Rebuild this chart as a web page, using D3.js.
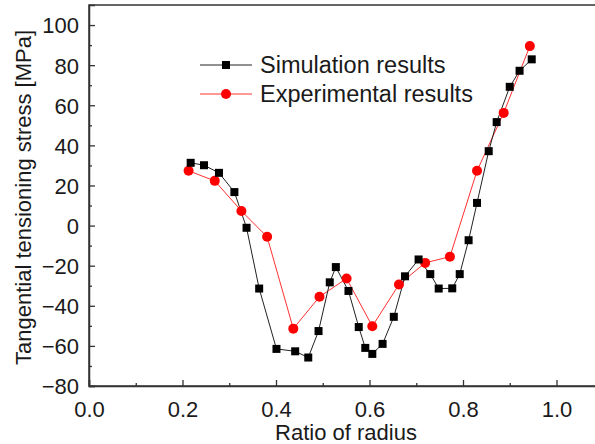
<!DOCTYPE html>
<html lang="en">
<head>
<meta charset="UTF-8">
<title>Tangential tensioning stress</title>
<script src="https://cdn.jsdelivr.net/npm/d3@7"></script>
<style>
  body { margin: 0; background: #fff; }
  text { font-family: "Liberation Sans", Arial, sans-serif; fill: #1a1a1a; }
</style>
</head>
<body>
<script>
// simulation (black squares)
const simX = [0.2175, 0.246, 0.278, 0.311, 0.337, 0.364, 0.401, 0.441, 0.469, 0.491,
  0.515, 0.528, 0.555, 0.577, 0.591, 0.606, 0.628, 0.652, 0.676, 0.705,
  0.73, 0.748, 0.777, 0.793, 0.812, 0.83, 0.855, 0.872, 0.9, 0.921, 0.947]
const simY = [31.3, 30.1, 26.3, 16.7, -1.1, -31.4, -61.5, -62.7, -65.8, -52.6,
  -28.3, -20.7, -32.6, -50.6, -61, -64, -59, -45.5, -25.3, -16.9,
  -24.2, -31.4, -31.3, -24.2, -7.3, 11.3, 37.1, 51.6, 69.2, 77.2, 82.9]

// experiment (red circles)
const expX = [0.213, 0.269, 0.326, 0.381, 0.437, 0.493, 0.551, 0.606, 0.663, 0.719, 0.772, 0.83, 0.887, 0.943]
const expY = [27.3, 22.3, 7.3, -5.6, -51.4, -35.5, -26.4, -50.2, -29.4, -18.6, -15.5, 27.3, 56.2, 89.5]

const xTicks = [0, 0.2, 0.4, 0.6, 0.8, 1.0]
const yTicks = [-80, -60, -40, -20, 0, 20, 40, 60, 80, 100]
const seriesNames = ['Simulation results', 'Experimental results']

const width = 595, height = 444
const mLeft = 89, mTop = 5, mBottom = 386

const x = d3.scaleLinear().domain([0, 1.1]).range([mLeft, mLeft + 1.1 * 467.5])
const y = d3.scaleLinear().domain([-80, 110]).range([mBottom, mTop])

const svg = d3.select('body').append('svg')
  .attr('width', width)
  .attr('height', height)

// frame
svg.append('rect')
  .attr('x', x(0)).attr('y', y(110))
  .attr('width', x(1.1) - x(0)).attr('height', y(-80) - y(110))
  .attr('fill', 'none').attr('stroke', '#333').attr('stroke-width', 1.5)

// x axis (ticks inside)
const xAxis = d3.axisBottom(x).tickValues(xTicks).tickSize(-6).tickFormat(d3.format('.1f'))
const gx = svg.append('g').attr('transform', `translate(0,${mBottom})`).call(xAxis)
svg.append('g').attr('transform', `translate(0,${mBottom})`)
  .call(d3.axisBottom(x).tickValues([0.1, 0.3, 0.5, 0.7, 0.9]).tickSize(-3).tickFormat(''))
  .call(g => g.select('.domain').remove())

const yAxis = d3.axisLeft(y).tickValues(yTicks).tickSize(-6)
const gy = svg.append('g').attr('transform', `translate(${mLeft},0)`).call(yAxis)
svg.append('g').attr('transform', `translate(${mLeft},0)`)
  .call(d3.axisLeft(y).tickValues(d3.range(-70, 110, 20)).tickSize(-3).tickFormat(''))
  .call(g => g.select('.domain').remove())

svg.selectAll('.domain').attr('stroke', '#333').attr('stroke-width', 1.5)
svg.selectAll('.tick line').attr('stroke', '#333').attr('stroke-width', 1.3)

gx.selectAll('text').attr('font-size', 22).attr('dy', 0).attr('y', 31)
  .attr('font-family', '"Liberation Sans", Arial, sans-serif').attr('fill', '#1a1a1a')
gy.selectAll('text').attr('font-size', 22).attr('x', -10).attr('dy', '0.36em')
  .attr('font-family', '"Liberation Sans", Arial, sans-serif').attr('fill', '#1a1a1a')

// axis titles
svg.append('text')
  .attr('x', (x(0) + 595) / 2 + 4).attr('y', 440)
  .attr('text-anchor', 'middle').attr('font-size', 22)
  .text('Ratio of radius')

svg.append('text')
  .attr('transform', `translate(31,${(mTop + mBottom) / 2 + 2}) rotate(-90)`)
  .attr('text-anchor', 'middle').attr('font-size', 22)
  .text('Tangential tensioning stress [MPa]')

// lines
const sim = simX.map((d, i) => [d, simY[i]])
const exp = expX.map((d, i) => [d, expY[i]])
const line = d3.line().x(d => x(d[0])).y(d => y(d[1]))

svg.append('path').datum(exp).attr('d', line)
  .attr('fill', 'none').attr('stroke', '#ff3030').attr('stroke-width', 1)
svg.append('path').datum(sim).attr('d', line)
  .attr('fill', 'none').attr('stroke', '#222').attr('stroke-width', 1)

svg.selectAll('circle.exp').data(exp).enter().append('circle')
  .attr('class', 'exp')
  .attr('cx', d => x(d[0])).attr('cy', d => y(d[1])).attr('r', 5)
  .attr('fill', '#ff0000')

svg.selectAll('rect.sim').data(sim).enter().append('rect')
  .attr('class', 'sim')
  .attr('x', d => x(d[0]) - 4).attr('y', d => y(d[1]) - 4)
  .attr('width', 8).attr('height', 8)
  .attr('fill', '#000')

// legend
const legend = svg.append('g')
const legY = [65, 94]
const legCol = ['#222', '#ff3030']
seriesNames.forEach((name, i) => {
  legend.append('line')
    .attr('x1', 200).attr('x2', 252).attr('y1', legY[i]).attr('y2', legY[i])
    .attr('stroke', legCol[i]).attr('stroke-width', 1)
  if (i === 0) {
    legend.append('rect').attr('x', 222).attr('y', legY[i] - 4).attr('width', 8).attr('height', 8).attr('fill', '#000')
  } else {
    legend.append('circle').attr('cx', 226).attr('cy', legY[i]).attr('r', 5).attr('fill', '#ff0000')
  }
  legend.append('text')
    .attr('x', 260).attr('y', legY[i] + 8)
    .attr('font-size', 23.5)
    .text(name)
})
</script>
</body>
</html>
